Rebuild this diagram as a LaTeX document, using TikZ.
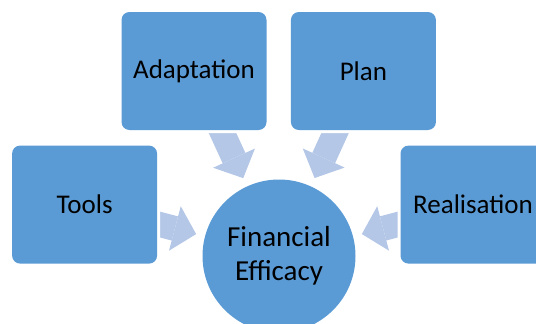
\documentclass[tikz,border=0pt]{standalone}
\usepackage{fontspec}
\setmainfont{Carlito}
\usepackage{xcolor}
\usetikzlibrary{arrows.meta, positioning, backgrounds}
\definecolor{boxfill}{RGB}{91,155,213}
\definecolor{arrowfill}{RGB}{180,199,231}
\tikzset{
    box/.style={
        rectangle,
        rounded corners=8pt,
        fill=boxfill,
        preaction={draw=white, line width=6pt},
        minimum width=145pt,
        minimum height=118pt,
        text centered,
        font=\fontsize{27}{33}\selectfont
    },
    hub/.style={
        circle,
        fill=boxfill,
        minimum size=153pt,
        align=center,
        font=\fontsize{29}{34}\selectfont
    },
    feed/.style={
        draw=arrowfill,
        line width=25pt,
        shorten >=9pt,
        -{Triangle[width=46pt,length=22pt,line width=0pt]}
    }
}
\begin{document}
\begin{tikzpicture}[x=1pt, y=-1pt]

\useasboundingbox (0,0) rectangle (536,324);

% Centre
\node[hub] (eff) at (279,256) {Financial\\Efficacy};

% Top row
\node[box] (adapt) at (194,71) {Adaptation};
\node[box, right=24pt of adapt] (plan) {Plan};

% Side boxes
\node[box] (tools) at (84.6,204.6) {Tools};
\node[box, right=243pt of tools] (real) {Realisation};

% Arrows into the centre
\begin{scope}[on background layer]
\draw[feed] (adapt.center) -- (eff);
\draw[feed] (plan.center) -- (eff);
\draw[feed] (tools.center) -- (eff);
\draw[feed] (real.center) -- (eff);
\end{scope}

\end{tikzpicture}
\end{document}
